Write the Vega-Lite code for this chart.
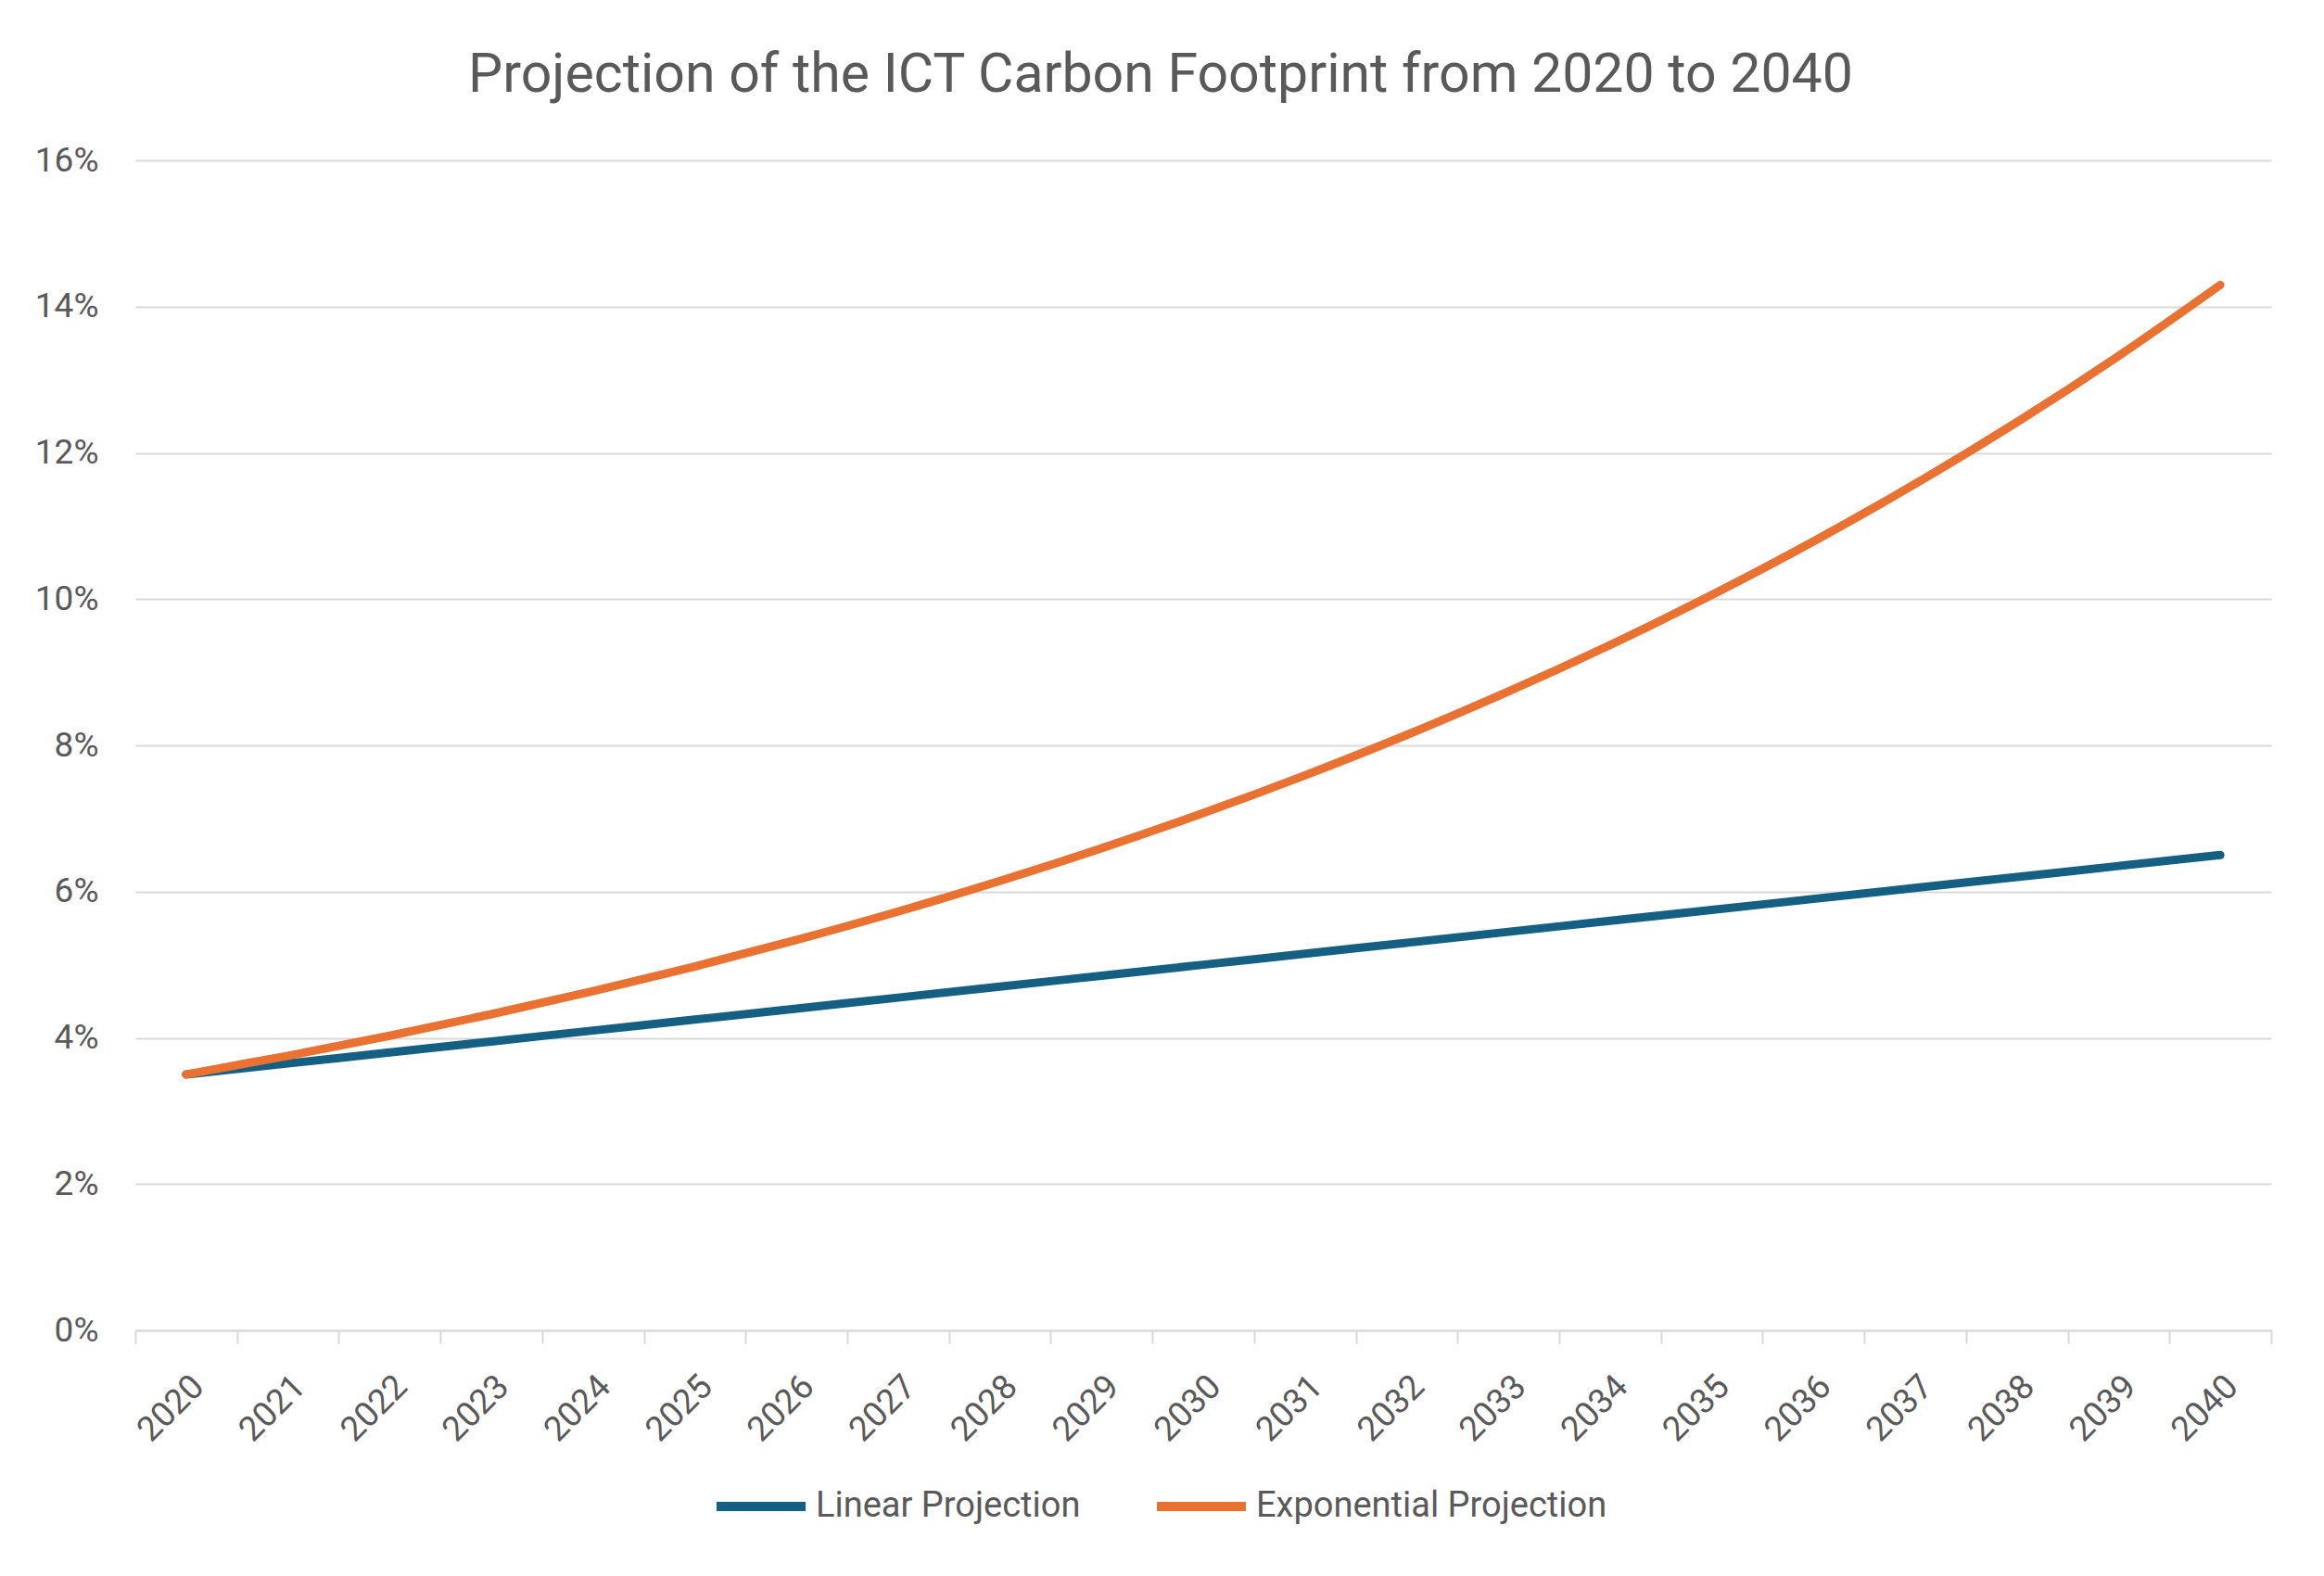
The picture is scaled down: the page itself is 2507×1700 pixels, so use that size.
{
  "$schema": "https://vega.github.io/schema/vega-lite/v6.json",
  "description": "Projection of the ICT carbon footprint, 2020-2040",
  "autosize": {"type": "none"},
  "padding": {"left": 146, "top": 173, "right": 57, "bottom": 265},
  "width": 2304,
  "height": 1262,
  "background": "white",
  "title": {
    "text": "Projection of the ICT Carbon Footprint from 2020 to 2040",
    "font": "Roboto",
    "fontSize": 59,
    "fontWeight": "normal",
    "color": "#595959",
    "anchor": "middle",
    "dx": -46,
    "offset": 43
  },
  "data": {
    "values": [
      {"year": "2020", "series": "Linear Projection", "share": 0.035},
      {"year": "2021", "series": "Linear Projection", "share": 0.0365},
      {"year": "2022", "series": "Linear Projection", "share": 0.038},
      {"year": "2023", "series": "Linear Projection", "share": 0.0395},
      {"year": "2024", "series": "Linear Projection", "share": 0.041},
      {"year": "2025", "series": "Linear Projection", "share": 0.0425},
      {"year": "2026", "series": "Linear Projection", "share": 0.044},
      {"year": "2027", "series": "Linear Projection", "share": 0.0455},
      {"year": "2028", "series": "Linear Projection", "share": 0.047},
      {"year": "2029", "series": "Linear Projection", "share": 0.0485},
      {"year": "2030", "series": "Linear Projection", "share": 0.05},
      {"year": "2031", "series": "Linear Projection", "share": 0.0515},
      {"year": "2032", "series": "Linear Projection", "share": 0.053},
      {"year": "2033", "series": "Linear Projection", "share": 0.0545},
      {"year": "2034", "series": "Linear Projection", "share": 0.056},
      {"year": "2035", "series": "Linear Projection", "share": 0.0575},
      {"year": "2036", "series": "Linear Projection", "share": 0.059},
      {"year": "2037", "series": "Linear Projection", "share": 0.0605},
      {"year": "2038", "series": "Linear Projection", "share": 0.062},
      {"year": "2039", "series": "Linear Projection", "share": 0.0635},
      {"year": "2040", "series": "Linear Projection", "share": 0.065},
      {"year": "2020", "series": "Exponential Projection", "share": 0.035},
      {"year": "2021", "series": "Exponential Projection", "share": 0.03755},
      {"year": "2022", "series": "Exponential Projection", "share": 0.04029},
      {"year": "2023", "series": "Exponential Projection", "share": 0.04323},
      {"year": "2024", "series": "Exponential Projection", "share": 0.04638},
      {"year": "2025", "series": "Exponential Projection", "share": 0.04976},
      {"year": "2026", "series": "Exponential Projection", "share": 0.05339},
      {"year": "2027", "series": "Exponential Projection", "share": 0.05728},
      {"year": "2028", "series": "Exponential Projection", "share": 0.06145},
      {"year": "2029", "series": "Exponential Projection", "share": 0.06593},
      {"year": "2030", "series": "Exponential Projection", "share": 0.07074},
      {"year": "2031", "series": "Exponential Projection", "share": 0.0759},
      {"year": "2032", "series": "Exponential Projection", "share": 0.08143},
      {"year": "2033", "series": "Exponential Projection", "share": 0.08736},
      {"year": "2034", "series": "Exponential Projection", "share": 0.09373},
      {"year": "2035", "series": "Exponential Projection", "share": 0.10057},
      {"year": "2036", "series": "Exponential Projection", "share": 0.1079},
      {"year": "2037", "series": "Exponential Projection", "share": 0.11576},
      {"year": "2038", "series": "Exponential Projection", "share": 0.1242},
      {"year": "2039", "series": "Exponential Projection", "share": 0.13326},
      {"year": "2040", "series": "Exponential Projection", "share": 0.14297}
    ]
  },
  "mark": {
    "type": "line",
    "strokeWidth": 9,
    "strokeCap": "round",
    "strokeJoin": "round",
    "interpolate": "monotone"
  },
  "encoding": {
    "x": {
      "field": "year",
      "type": "ordinal",
      "title": null,
      "bandPosition": 0.5,
      "scale": {"type": "band", "paddingInner": 0, "paddingOuter": 0},
      "axis": {
        "labelAngle": -45,
        "tickBand": "extent",
        "tickSize": 14,
        "tickColor": "#D9D9D9",
        "tickWidth": 2,
        "domainColor": "#D9D9D9",
        "domainWidth": 2,
        "labelPadding": 28,
        "grid": false
      }
    },
    "y": {
      "field": "share",
      "type": "quantitative",
      "title": null,
      "scale": {"domain": [0, 0.16], "nice": false},
      "axis": {
        "values": [0, 0.02, 0.04, 0.06, 0.08, 0.1, 0.12, 0.14, 0.16],
        "format": ".0%",
        "domain": false,
        "ticks": false,
        "labelPadding": 40,
        "gridColor": "#D9D9D9",
        "gridWidth": 2
      }
    },
    "color": {
      "field": "series",
      "type": "nominal",
      "title": null,
      "scale": {
        "domain": ["Linear Projection", "Exponential Projection"],
        "range": ["#156082", "#E97132"]
      },
      "legend": {
        "orient": "none",
        "direction": "horizontal",
        "legendX": 622,
        "legendY": 1399,
        "symbolType": "stroke",
        "symbolSize": 9216,
        "symbolStrokeWidth": 10,
        "labelOffset": 6,
        "columnPadding": 62
      }
    }
  },
  "config": {
    "font": "Roboto",
    "view": {"stroke": null},
    "axis": {
      "labelFont": "Roboto",
      "labelFontSize": 37,
      "labelColor": "#595959"
    },
    "legend": {
      "labelFont": "Roboto",
      "labelFontSize": 38,
      "labelColor": "#595959",
      "labelLimit": 600
    }
  }
}
